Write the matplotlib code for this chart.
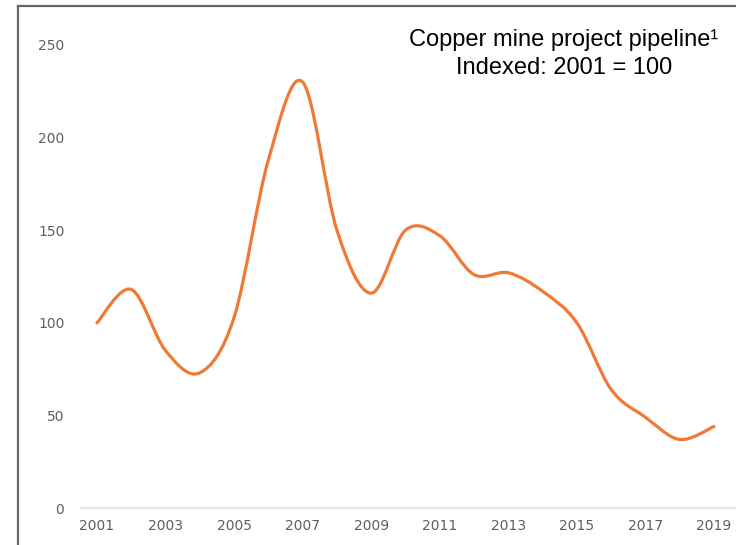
import matplotlib
matplotlib.use("Agg")
import matplotlib.pyplot as plt
import numpy as np
from matplotlib.path import Path
from matplotlib.patches import PathPatch
from matplotlib.lines import Line2D

years = [2001, 2002, 2003, 2004, 2005, 2006, 2007, 2008, 2009, 2010,
         2011, 2012, 2013, 2014, 2015, 2016, 2017, 2018, 2019]
index = [100, 118, 85, 73, 103, 188, 230, 150, 116, 150,
         147, 126, 127, 117, 100, 64, 49, 37, 44]
yticks = [0, 50, 100, 150, 200, 250]
xticks = list(range(2001, 2020, 2))

title1 = "Copper mine project pipeline\u00b9"
title2 = "Indexed: 2001 = 100"

orange = "#F07A35"
grey = "#5f5f5f"


def smooth_path(x, y, k=1 / 6):
    # catmull-rom curve turned into bezier segments (like a "smoothed line")
    x = np.asarray(x, float)
    y = np.asarray(y, float)
    verts = [(x[0], y[0])]
    codes = [Path.MOVETO]
    n = len(x)
    for i in range(n - 1):
        a = i - 1 if i > 0 else i
        b = i + 2 if i + 2 < n else i + 1
        c1 = (x[i] + (x[i + 1] - x[a]) * k, y[i] + (y[i + 1] - y[a]) * k)
        c2 = (x[i + 1] - (x[b] - x[i]) * k, y[i + 1] - (y[b] - y[i]) * k)
        verts += [c1, c2, (x[i + 1], y[i + 1])]
        codes += [Path.CURVE4] * 3
    return Path(verts, codes)


fig = plt.figure(figsize=(7.36, 5.45), dpi=100)
ax = fig.add_axes([81 / 736, 37 / 545, 1 - 81 / 736, 463 / 545])

ax.add_patch(PathPatch(smooth_path(years, index), facecolor="none",
                       edgecolor=orange, lw=2.3, capstyle="round", clip_on=False))

ax.set_xlim(2001 - 16 / 34.28, 2019 + 22 / 34.28)
ax.set_ylim(0, 250)
ax.set_yticks(yticks)
ax.set_xticks(xticks)
ax.tick_params(length=0, labelsize=10, labelcolor=grey)
ax.tick_params(axis="y", pad=12)
ax.tick_params(axis="x", pad=8)
for s in ["top", "right", "left"]:
    ax.spines[s].set_visible(False)
ax.spines["bottom"].set_color("#e3e3e3")
ax.spines["bottom"].set_linewidth(1.5)

# frame of the slide
fig.add_artist(Line2D([18 / 736, 18 / 736], [0, 1 - 6 / 545], color="#666666", lw=1.6))
fig.add_artist(Line2D([18 / 736, 1], [1 - 6 / 545, 1 - 6 / 545], color="#666666", lw=1.6))

fig.text(564 / 736, 1 - 40 / 545, title1, ha="center", va="center",
         fontsize=17, family="Liberation Sans", color="black")
fig.text(564 / 736, 1 - 68 / 545, title2, ha="center", va="center",
         fontsize=17, family="Liberation Sans", color="black")

fig.savefig("out.png", dpi=100)
